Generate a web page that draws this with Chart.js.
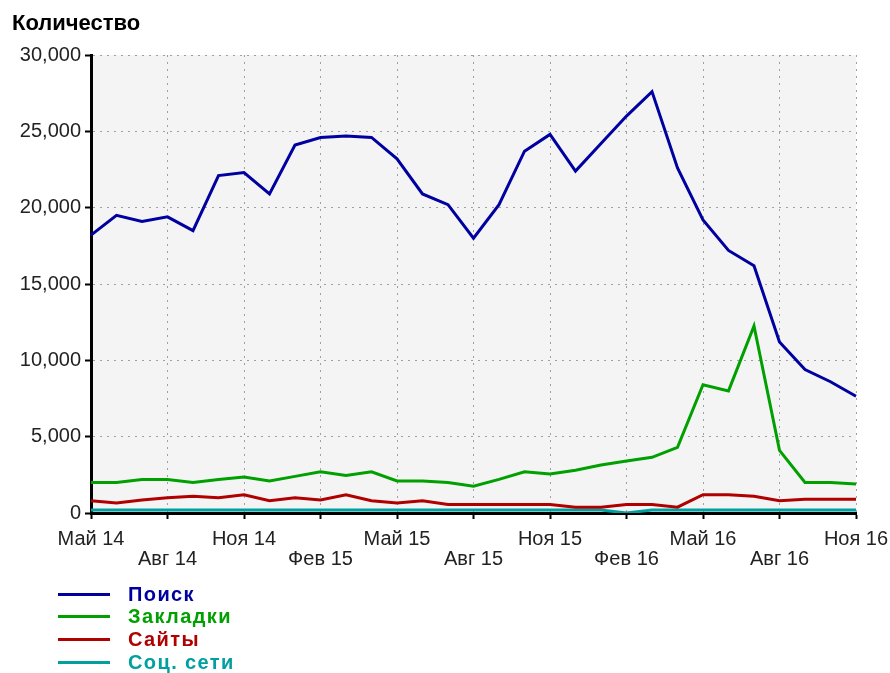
<!DOCTYPE html>
<html lang="ru">
<head>
<meta charset="utf-8">
<title>Количество</title>
<script src="https://cdn.jsdelivr.net/npm/chart.js@4.4.1/dist/chart.umd.min.js"></script>
<style>
  html, body { margin: 0; padding: 0; background: #fff; }
  #wrap { position: relative; width: 890px; height: 673px; }
  #chartCanvas { position: absolute; left: 0; top: 0; }
  #legend {
    position: absolute; left: 58px; top: 583px;
    font-family: "Liberation Sans", Arial, sans-serif;
    font-weight: bold; font-size: 20px; letter-spacing: 1.4px;
  }
  #legend .item { display: flex; align-items: center; height: 22.6px; }
  #legend .swatch { width: 52px; height: 3px; margin-right: 18px; }
</style>
</head>
<body>
<div id="wrap">
  <canvas id="chartCanvas" width="890" height="673"></canvas>
  <div id="legend"></div>
</div>
<script>
// Month labels, May 2014 - Nov 2016
const months = [
  "Май 14", "Июн 14", "Июл 14", "Авг 14", "Сен 14", "Окт 14", "Ноя 14", "Дек 14",
  "Янв 15", "Фев 15", "Мар 15", "Апр 15", "Май 15", "Июн 15", "Июл 15", "Авг 15",
  "Сен 15", "Окт 15", "Ноя 15", "Дек 15", "Янв 16", "Фев 16", "Мар 16", "Апр 16",
  "Май 16", "Июн 16", "Июл 16", "Авг 16", "Сен 16", "Окт 16", "Ноя 16",
];

// Series values
const search = [
  18200, 19500, 19100, 19400, 18500, 22100, 22300, 20900,
  24100, 24600, 24700, 24600, 23200, 20900, 20200, 18000,
  20200, 23700, 24800, 22400, 24200, 26000, 27600, 22600,
  19200, 17200, 16200, 11200, 9400, 8600, 7650,
];
const bookmarks = [
  2000, 2000, 2200, 2200, 2000, 2200, 2350, 2100,
  2400, 2700, 2450, 2700, 2100, 2100, 2000, 1750,
  2200, 2700, 2550, 2800, 3150, 3400, 3650, 4300,
  8400, 8000, 12250, 4100, 2000, 2000, 1900,
];
const sites = [
  800, 650, 850, 1000, 1100, 1000, 1200, 800,
  1000, 850, 1200, 800, 650, 800, 550, 550,
  550, 550, 550, 380, 380, 550, 550, 380,
  1200, 1200, 1100, 800, 900, 900, 900,
];
const social = [
  200, 200, 200, 200, 200, 200, 200, 200,
  200, 200, 200, 200, 200, 200, 200, 200,
  200, 200, 200, 200, 200, 0, 200, 200,
  200, 200, 200, 200, 200, 200, 200,
];

const seriesNames = ["Поиск", "Закладки", "Сайты", "Соц. сети"];
const seriesColors = ["#0000a0", "#00a000", "#b00000", "#00a0a0"];
const seriesData = [search, bookmarks, sites, social];

// y tick values
const yMin = 0;
const yMax = 30000;
const yStep = 5000;

const fontFamily = '"Liberation Sans", Arial, sans-serif';

// Light gray plot background
const plotBackground = {
  id: "plotBackground",
  beforeDraw(chart) {
    const { ctx, chartArea } = chart;
    ctx.save();
    ctx.fillStyle = "#f4f4f4";
    ctx.fillRect(chartArea.left, chartArea.top, chartArea.width, chartArea.height);
    ctx.restore();
  },
};

// every third month gets a label, a tick and a grid line
function isMajor(c) {
  const i = c.tick ? c.tick.value : c.index;
  return i % 3 === 0;
}

const ctx = document.getElementById("chartCanvas").getContext("2d");

const myChart = new Chart(ctx, {
  type: "line",
  data: {
    labels: months,
    datasets: seriesNames.map((name, i) => ({
      label: name,
      data: seriesData[i],
      borderColor: seriesColors[i],
      backgroundColor: seriesColors[i],
      borderWidth: 3,
      pointRadius: 0,
      tension: 0,
      fill: false,
    })),
  },
  options: {
    responsive: false,
    animation: false,
    layout: {
      padding: { left: 12, right: 34, top: 0, bottom: 100 },
    },
    plugins: {
      legend: { display: false },
      tooltip: { enabled: false },
      title: {
        display: true,
        text: "Количество",
        align: "start",
        color: "#000",
        font: { family: fontFamily, size: 22, weight: "bold", lineHeight: 1.2 },
        padding: { top: 11, bottom: 17.6 },
      },
    },
    scales: {
      x: {
        afterFit: function (scale) {
          scale.height = 60;
          scale.paddingLeft = 0;
          scale.paddingRight = 0;
        },
        grid: {
          color: (c) => (isMajor(c) ? "#a0a0a0" : "transparent"),
          tickColor: (c) => (isMajor(c) ? "#000" : "transparent"),
          tickLength: 6,
          tickWidth: 2,
        },
        border: { color: "#000", width: 3, dash: [2, 5] },
        ticks: {
          autoSkip: false,
          maxRotation: 0,
          padding: 10,
          color: "#222",
          font: { family: fontFamily, size: 20, lineHeight: "20px" },
          callback: function (value, index) {
            if (index % 3 !== 0) return null;
            const label = months[index];
            return (index / 3) % 2 === 0 ? label : ["", label];
          },
        },
      },
      y: {
        min: yMin,
        max: yMax,
        afterFit: function (scale) {
          scale.width = 79;
        },
        grid: {
          color: "#a0a0a0",
          tickColor: "#000",
          tickLength: 6,
          tickWidth: 2,
        },
        border: { color: "#000", width: 3, dash: [2, 5] },
        ticks: {
          stepSize: yStep,
          padding: 4,
          color: "#222",
          font: { family: fontFamily, size: 20 },
          callback: function (value) {
            return value.toLocaleString("en-US");
          },
        },
      },
    },
  },
  plugins: [plotBackground],
});

// Legend below the chart, one series per row
const legend = document.getElementById("legend");
myChart.data.datasets.forEach((ds) => {
  const item = document.createElement("div");
  item.className = "item";
  const swatch = document.createElement("span");
  swatch.className = "swatch";
  swatch.style.background = ds.borderColor;
  const text = document.createElement("span");
  text.textContent = ds.label;
  text.style.color = ds.borderColor;
  item.appendChild(swatch);
  item.appendChild(text);
  legend.appendChild(item);
});
</script>
</body>
</html>
